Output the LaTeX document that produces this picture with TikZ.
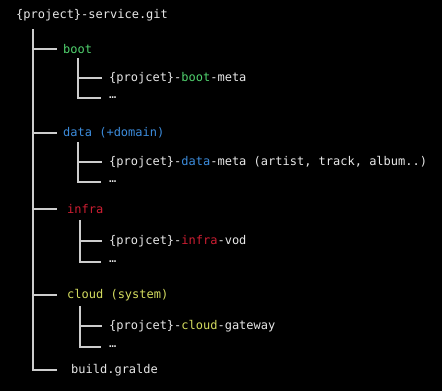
\documentclass[tikz,border=0pt]{standalone}
\usepackage{fontspec}
\setmonofont{DejaVu Sans Mono}
\definecolor{bg}{RGB}{0,0,0}
\definecolor{fg}{RGB}{232,232,232}
\definecolor{linec}{RGB}{205,205,205}
\definecolor{cgreen}{RGB}{80,210,110}
\definecolor{cblue}{RGB}{60,140,220}
\definecolor{cred}{RGB}{205,30,50}
\definecolor{cyellow}{RGB}{212,220,95}
\begin{document}
\begin{tikzpicture}[x=1pt,y=-1pt,
  txt/.style={anchor=west,inner sep=0pt,font=\ttfamily\fontsize{12}{14}\selectfont,text=fg},
  tree/.style={draw=linec,line width=1.4pt}]
\useasboundingbox (0,0) rectangle (442,391);
\fill[bg] (0,0) rectangle (442,391);
% root
\node[txt] (root) at (16,15) {\{project\}-service.git};
\coordinate (t0) at (33,29);
% boot
\node[txt,text=cgreen] (boot) at (63,49) {boot};
\coordinate (b0) at (78,58);
\node[txt] (bootmeta) at (109,78) {\{projcet\}-\textcolor{cgreen}{boot}-meta};
\node[txt] (bootdots) at (109,98) {…};
% data
\node[txt,text=cblue] (data) at (63,133) {data (+domain)};
\coordinate (d0) at (78,142);
\node[txt] (datameta) at (109,162) {\{projcet\}-\textcolor{cblue}{data}-meta (artist, track, album..)};
\node[txt] (datadots) at (109,182) {…};
% infra
\node[txt,text=cred] (infra) at (67,209) {infra};
\coordinate (i0) at (80,220);
\node[txt] (infravod) at (109,241) {\{projcet\}-\textcolor{cred}{infra}-vod};
\node[txt] (infradots) at (109,262) {…};
% cloud
\node[txt,text=cyellow] (cloud) at (67,295) {cloud (system)};
\coordinate (c0) at (80,306);
\node[txt] (cloudgw) at (109,326) {\{projcet\}-\textcolor{cyellow}{cloud}-gateway};
\node[txt] (clouddots) at (109,347) {…};
% build
\node[txt] (build) at (71,370) {build.gralde};
% trunk connectors
\draw[tree] (t0) |- ([xshift=-6pt]boot.west);
\draw[tree] (t0) |- ([xshift=-6pt]data.west);
\draw[tree] (t0) |- ([xshift=-10pt]infra.west);
\draw[tree] (t0) |- ([xshift=-10pt]cloud.west);
\draw[tree] (t0) |- ([xshift=-14pt]build.west);
% sub connectors
\draw[tree] (b0) |- ([xshift=-7pt]bootmeta.west);
\draw[tree] (b0) |- ([xshift=-8pt]bootdots.west);
\draw[tree] (d0) |- ([xshift=-7pt]datameta.west);
\draw[tree] (d0) |- ([xshift=-8pt]datadots.west);
\draw[tree] (i0) |- ([xshift=-7pt]infravod.west);
\draw[tree] (i0) |- ([xshift=-8pt]infradots.west);
\draw[tree] (c0) |- ([xshift=-7pt]cloudgw.west);
\draw[tree] (c0) |- ([xshift=-8pt]clouddots.west);
\end{tikzpicture}
\end{document}
